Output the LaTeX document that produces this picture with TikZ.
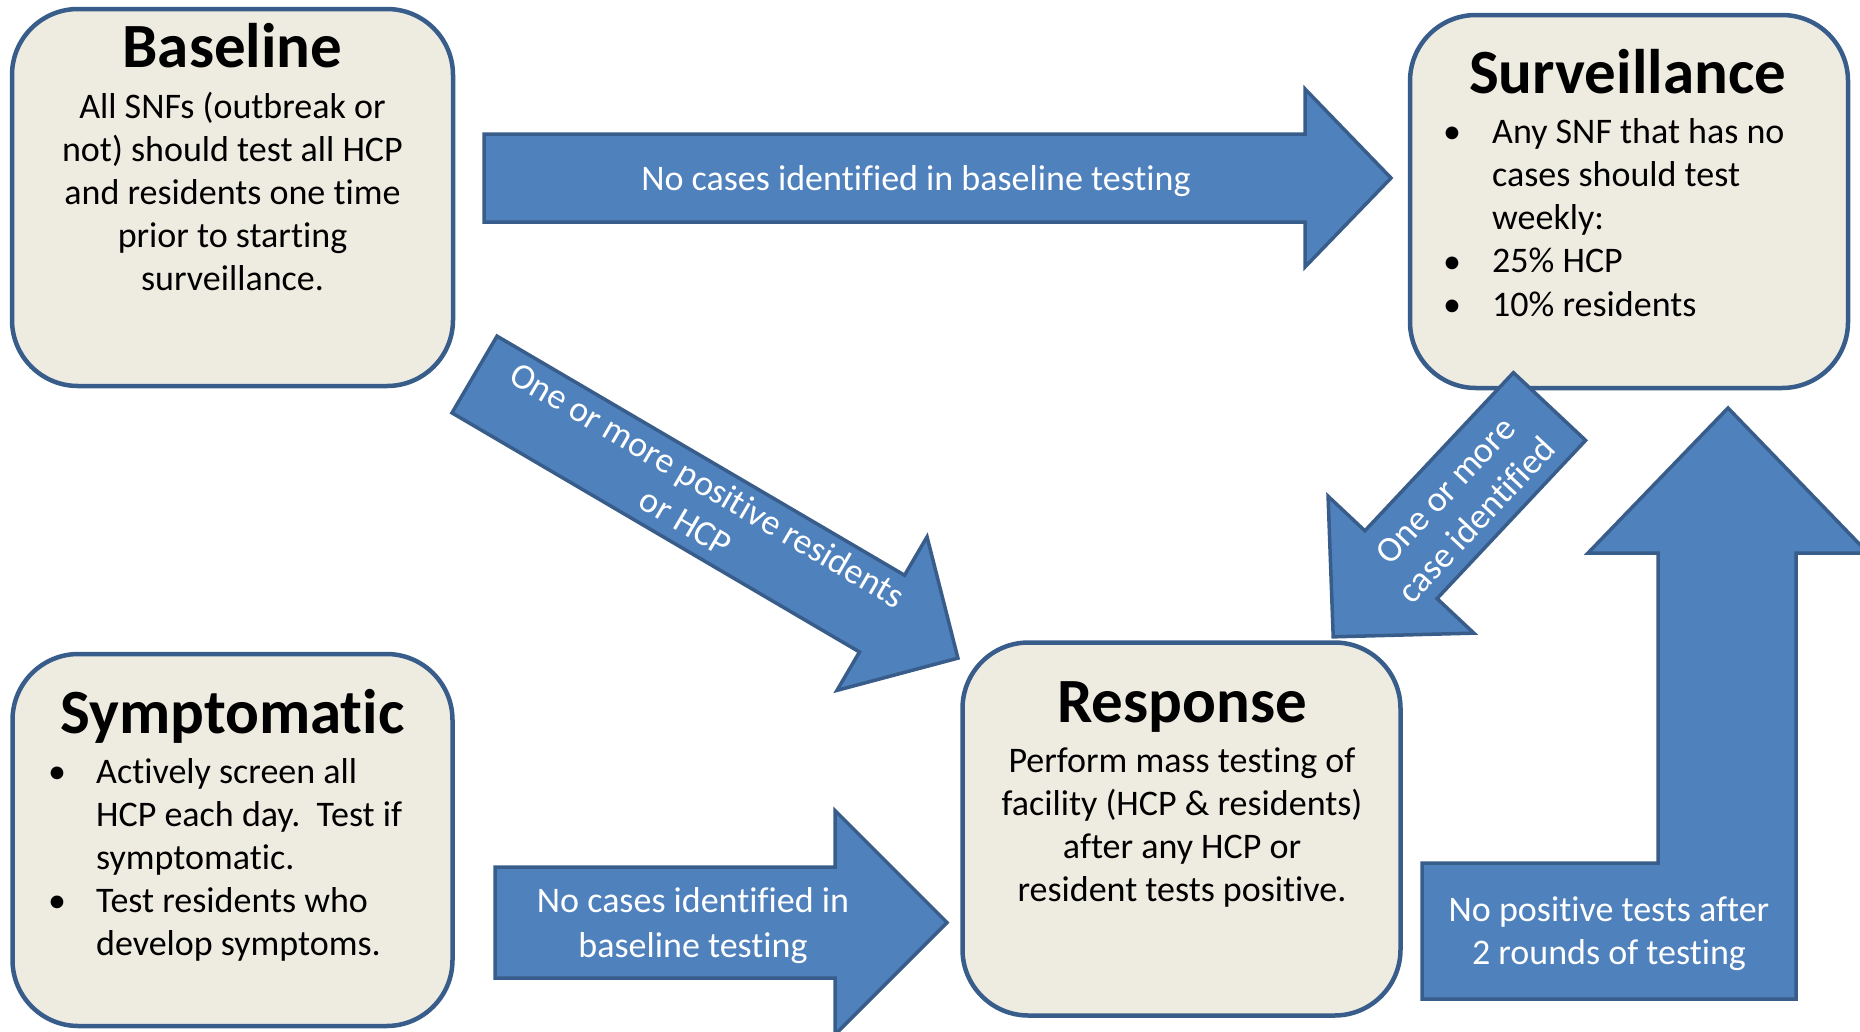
\documentclass[tikz,border=0pt]{standalone}
\usepackage{fontspec}
\setmainfont[Ligatures=NoCommon]{Carlito}
\definecolor{boxfill}{HTML}{EEECE1}
\definecolor{edge}{HTML}{385D8A}
\definecolor{arrowfill}{HTML}{4F81BD}
\tikzset{
  box/.style={draw=edge, fill=boxfill, line width=4.5pt, rounded corners=66pt, inner sep=0pt},
  barrow/.style={draw=edge, fill=arrowfill, line width=3.5pt, line join=miter},
  ttl/.style={font=\bfseries\fontsize{63}{75}\selectfont, inner sep=0pt, anchor=base},
  bodyc/.style={font=\fontsize{36}{43}\selectfont, inner sep=0pt, anchor=base},
  bodyl/.style={font=\fontsize{36}{43}\selectfont, inner sep=0pt, anchor=base west},
  lbl/.style={font=\fontsize{36}{43}\selectfont, text=white, inner sep=0pt, anchor=base},
  lblrot/.style={font=\fontsize{36}{43}\selectfont, text=white, inner sep=0pt, align=center, anchor=center},
}
\begin{document}
\begin{tikzpicture}[x=1pt, y=-1pt]
\path[use as bounding box] (0,0) rectangle (1860,1031);
\clip (0,0) rectangle (1860,1031);

% boxes
\node[box, minimum width=441pt, minimum height=377pt] (baseline) at (232.5,197.5) {};
\node[box, minimum width=438pt, minimum height=373pt] (surv) at (1629,201.5) {};
\node[box, minimum width=440pt, minimum height=372pt] (symp) at (232.5,840) {};
\node[box, minimum width=438pt, minimum height=373pt] (resp) at (1181.5,829) {};

% box texts
\node[ttl] (baseline-t) at (232.5,67) {Baseline};
\foreach \t [count=\i] in {{All SNFs (outbreak or},{not) should test all HCP},{and residents one time},{prior to starting},{surveillance.}}
  \node[bodyc] (baseline-l\i) at (232.5,{118+43*(\i-1)}) {\t};

\node[ttl] (surv-t) at (1627.5,93) {Surveillance};
\foreach \y [count=\i] in {143,316,273}
  \node[bodyc] (surv-b\i) at (1452,\y) {\textbullet};
\foreach \t [count=\i] in {{Any SNF that has no},{cases should test},{weekly:},{25\% HCP},{10\% residents}}
  \node[bodyl] (surv-l\i) at (1492,{143+43.25*(\i-1)}) {\t};

\node[ttl] (symp-t) at (232.5,733) {Symptomatic};
\foreach \y [count=\i] in {783,912}
  \node[bodyc] (symp-b\i) at (57,\y) {\textbullet};
\foreach \t [count=\i] in {{Actively screen all},{HCP each day.\ \ Test if},{symptomatic.},{Test residents who},{develop symptoms.}}
  \node[bodyl] (symp-l\i) at (96,{783+43*(\i-1)}) {\t};

\node[ttl] (resp-t) at (1182,722) {Response};
\foreach \t [count=\i] in {{Perform mass testing of},{facility (HCP \& residents)},{after any HCP or},{resident tests positive.}}
  \node[bodyc] (resp-l\i) at (1182,{772+43*(\i-1)}) {\t};

% block arrows
\coordinate (a1tail) at (484,178);
\coordinate (a2tail) at (495,922.5);
\coordinate (a3tail) at (474.5,374.5);
\coordinate (a4tail) at (1549.5,406.5);

\draw[barrow, shift={(a1tail)}] (0,-44) -- (821,-44) -- (821,-89) -- (907,0) -- (821,89) -- (821,44) -- (0,44) -- cycle;
\draw[barrow, shift={(a2tail)}] (0,-55.5) -- (340,-55.5) -- (340,-112) -- (452,0) -- (340,112) -- (340,55.5) -- (0,55.5) -- cycle;
\draw[barrow, shift={(a3tail)}, rotate=-30.4] (0,-44.5) -- (472.5,-44.5) -- (472.5,-89) -- (560.5,0) -- (472.5,89) -- (472.5,44.5) -- (0,44.5) -- cycle;
\draw[barrow, shift={(a4tail)}, rotate=226.8] (0,-49.5) -- (217,-49.5) -- (217,-100) -- (316,0) -- (217,100) -- (217,49.5) -- (0,49.5) -- cycle;
\draw[barrow] (1422,863) -- (1658,863) -- (1658,553) -- (1588,553) -- (1728,408) -- (1868,553) -- (1796,553) -- (1796,999) -- (1422,999) -- cycle;

% arrow labels
\node[lbl] (l1) at (916,190) {No cases identified in baseline testing};
\node[lbl] (l2a) at (693,912) {No cases identified in};
\node[lbl] (l2b) at (693,957) {baseline testing};
\node[lblrot, rotate=-30.4] (l3) at (697,503) {One or more positive residents\\or HCP};
\node[lblrot, rotate=46.8] (l4) at (1461,505) {One or more\\case identified};
\node[lbl] (l5a) at (1609,921) {No positive tests after};
\node[lbl] (l5b) at (1609,964) {2 rounds of testing};
\end{tikzpicture}
\end{document}
